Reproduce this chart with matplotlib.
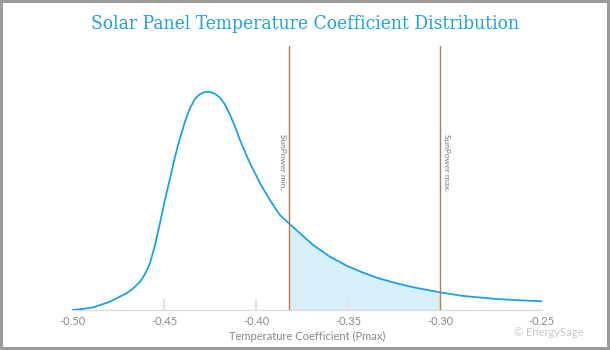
import matplotlib
matplotlib.use("Agg")
import matplotlib.pyplot as plt
from matplotlib.patches import Rectangle

# Distribution of panel temperature coefficients (relative density)
coef = [-0.5000, -0.4957, -0.4884, -0.4830, -0.4794, -0.4758, -0.4703, -0.4667,
        -0.4630, -0.4603, -0.4576, -0.4549,
        -0.4522, -0.4495, -0.4467, -0.4440, -0.4413, -0.4386, -0.4359, -0.4332,
        -0.4304, -0.4277, -0.4250, -0.4223, -0.4196, -0.4169, -0.4141, -0.4114,
        -0.4087, -0.4060, -0.4033, -0.4005, -0.3978, -0.3951, -0.3924, -0.3897,
        -0.3870, -0.3820, -0.3761, -0.3689, -0.3598, -0.3507, -0.3417, -0.3326,
        -0.3235, -0.3145, -0.3000, -0.2873, -0.2692, -0.2565, -0.2447]
density = [0.0, 0.7, 2.7, 6.0, 8.3, 11.7, 16.7, 21.7,
           28.3, 36.0, 46.7, 65.0,
           86.7, 110.0, 131.7, 153.3, 171.7, 188.3, 201.7, 211.0,
           216.0, 218.0, 218.0, 216.3, 212.3, 205.7, 195.0, 183.3,
           170.0, 158.3, 146.7, 136.7, 126.7, 118.3, 110.0, 102.3,
           95.0, 86.5, 76.7, 65.0, 53.3, 44.3, 37.3, 31.3,
           26.7, 22.7, 17.7, 14.0, 11.0, 9.7, 8.7]

sunpower_min = -0.382
sunpower_max = -0.300

tick_values = [-0.50, -0.45, -0.40, -0.35, -0.30, -0.2447]
tick_labels = ["-0.50", "-0.45", "-0.40", "-0.35", "-0.30", "-0.25"]

W, H = 610, 350
fig = plt.figure(figsize=(W / 100, H / 100), dpi=100, facecolor="#9b9b9b")
fig.patches.append(Rectangle((3 / W, 3 / H), (W - 6) / W, (H - 6) / H,
                             transform=fig.transFigure, facecolor="white",
                             edgecolor="none", zorder=-5))

ax = fig.add_axes([72 / W, 1 - 310 / H, 469.7 / W, 264 / H])
ax.set_facecolor("none")
ax.set_xlim(-0.5, -0.2447)
ax.set_ylim(0, 264)

blue = "#1ba3e1"
ax.plot(coef, density, color=blue, lw=1.3, solid_joinstyle="round",
        solid_capstyle="round", zorder=3)
ax.fill_between(coef, density, 0,
                where=[sunpower_min - 1e-9 <= c <= sunpower_max + 1e-9 for c in coef],
                color="#d7eff9", lw=0, zorder=1)

line_color = "#b97b4a"
for xv in (sunpower_min, sunpower_max):
    ax.axvline(xv, color=line_color, lw=1.0, zorder=4)

label_font = ["Lato", "DejaVu Sans"]
ax.annotate("SunPower min.", xy=(sunpower_min, (310 - 134) / 264),
            xycoords=("data", "axes fraction"), xytext=(-4.9, 0),
            textcoords="offset points", rotation=270, ha="center", va="top",
            fontsize=6, color="#777777", family=label_font)
ax.annotate("SunPower max.", xy=(sunpower_max, (310 - 134) / 264),
            xycoords=("data", "axes fraction"), xytext=(4.8, 0),
            textcoords="offset points", rotation=270, ha="center", va="top",
            fontsize=6, color="#777777", family=label_font)

for side in ("top", "right", "left"):
    ax.spines[side].set_visible(False)
ax.spines["bottom"].set_color("#dcdcdc")
ax.spines["bottom"].set_linewidth(1.0)
ax.set_yticks([])
ax.set_xticks(tick_values)
ax.set_xticklabels(tick_labels, family=label_font, fontsize=8, color="#888888")
ax.tick_params(axis="x", direction="in", length=8, width=1.5, color="#e3e3e3", pad=4)
ticks = ax.xaxis.get_major_ticks()
for i in (0, len(ticks) - 1):
    ticks[i].tick1line.set_visible(False)

ax.set_xlabel("Temperature Coefficient (Pmax)", family=label_font, fontsize=8,
              color="#888888", labelpad=3)

fig.text(549 / W, 1 - 333 / H, "© EnergySage", ha="center", va="center",
         family=label_font, fontsize=8, color="#c8c8c8")

fig.text(0.5, 1 - 24 / H, "Solar Panel Temperature Coefficient Distribution",
         ha="center", va="center", family=["DejaVu Serif"], fontstretch="condensed",
         fontsize=13.8, color="#1fa2dd")

fig.savefig("out.png", dpi=100, facecolor=fig.get_facecolor())
